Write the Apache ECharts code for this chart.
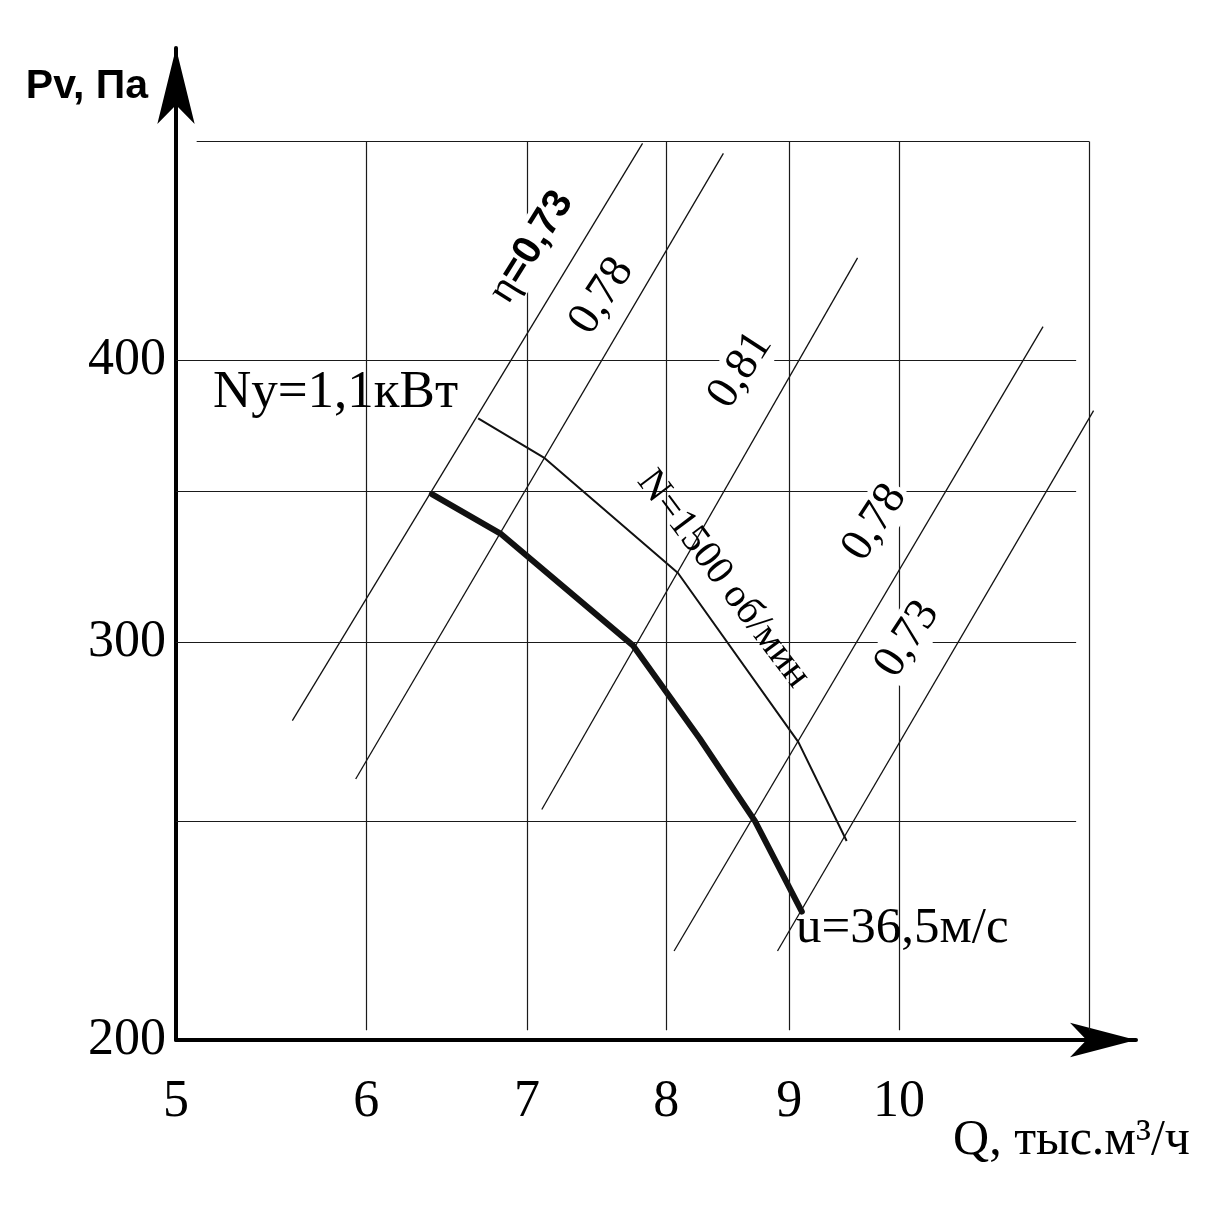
<!DOCTYPE html>
<html>
<head>
<meta charset="utf-8">
<script src="https://cdn.jsdelivr.net/npm/echarts@6/dist/echarts.min.js"></script>
<style>
html,body{margin:0;padding:0;background:#fff;}
#chart{width:1206px;height:1209px;}
</style>
</head>
<body>
<div id="chart"></div>
<script>
// ---------- data ----------
const xTickLabels = [5, 6, 7, 8, 9, 10];
const yTickLabels = [200, 300, 400];
const xGridValues = [6, 7, 8, 9, 10, 12];
const yGridValues = [250, 300, 350, 400, 500];

// pressure curve Pv(Q)
const pressureQ = [6.39, 6.83, 7.75, 8.26, 8.71, 9.11];
const pressureP = [349, 335, 299, 272, 250, 228];

// N = 1500 rpm curve
const speedQ = [6.68, 7.12, 8.09, 9.08, 9.51];
const speedP = [377, 362, 322, 271, 245];

// efficiency lines (start, end)
const etaNames = ['η=0,73', '0,78', '0,81', '0,78', '0,73'];
const etaQ = [[5.59, 7.82], [5.94, 8.45], [7.10, 9.61], [8.06, 11.48], [8.90, 12.05]];
const etaP = [[277, 499], [261, 494], [253, 444], [219, 414], [219, 380]];

// ---------- layout / style ----------
const serif = '"Liberation Serif","Times New Roman",serif';
const sans = '"Liberation Sans",Arial,sans-serif';
const gridSpanX = { from: 5, to: 11.85, topFrom: 5.1, topTo: 12 };
const gridSpanY = { from: 202, to: 500 };

const zip = (a, b) => a.map((v, i) => [v, b[i]]);

const gridLines = [];
yGridValues.forEach(v => {
  const top = v === yGridValues[yGridValues.length - 1];
  gridLines.push([{ coord: [top ? gridSpanX.topFrom : gridSpanX.from, v] },
                  { coord: [top ? gridSpanX.topTo : gridSpanX.to, v] }]);
});
xGridValues.forEach(v => {
  gridLines.push([{ coord: [v, gridSpanY.from] }, { coord: [v, gridSpanY.to] }]);
});

const series = [];
series.push({
  type: 'line', name: 'grid', data: [], silent: true,
  markLine: {
    silent: true, symbol: ['none', 'none'], animation: false,
    label: { show: false },
    lineStyle: { color: '#1a1a1a', width: 1.2, type: 'solid' },
    emphasis: { disabled: true },
    data: gridLines
  }
});
etaQ.forEach((q, i) => {
  series.push({
    type: 'line', name: etaNames[i], data: zip(q, etaP[i]),
    symbol: 'none', silent: true,
    lineStyle: { color: '#111', width: 1.3 }
  });
});
series.push({
  type: 'line', name: 'N=1500', data: zip(speedQ, speedP),
  symbol: 'none', silent: true,
  lineStyle: { color: '#111', width: 2 }
});
series.push({
  type: 'line', name: 'Pv', data: zip(pressureQ, pressureP),
  symbol: 'none', silent: true,
  lineStyle: { color: '#111', width: 6, join: 'round', cap: 'round' }
});

const option = {
  animation: false,
  backgroundColor: '#fff',
  grid: { left: 176, top: 48, width: 960, height: 992, containLabel: false, outerBoundsMode: 'none' },
  xAxis: {
    type: 'log', logBase: 10, min: 5, max: 12.55,
    axisLine: { show: true, onZero: false, lineStyle: { color: '#000', width: 4 },
      symbol: ['none', 'arrow'], symbolSize: [26, 66] },
    axisTick: { show: false },
    splitLine: { show: false },
    minorTick: { show: false },
    axisLabel: { customValues: xTickLabels, fontFamily: serif, fontSize: 52, color: '#000', margin: 36 },
    name: '\nQ, тыс.м³/ч', nameLocation: 'end', nameGap: 54,
    nameTextStyle: { fontFamily: serif, fontSize: 50, lineHeight: 67, color: '#000', align: 'right',
      verticalAlign: 'top' }
  },
  yAxis: {
    type: 'log', logBase: 10, min: 200, max: 550,
    axisLine: { show: true, onZero: false, lineStyle: { color: '#000', width: 4 },
      symbol: ['none', 'arrow'], symbolSize: [28, 76] },
    axisTick: { show: false },
    splitLine: { show: false },
    minorTick: { show: false },
    axisLabel: { customValues: yTickLabels, fontFamily: serif, fontSize: 52, color: '#000', margin: 10 },
    name: 'Pv, Па', nameLocation: 'end', nameGap: -39,
    nameTextStyle: { fontFamily: sans, fontWeight: 'bold', fontSize: 41, color: '#000',
      align: 'right', verticalAlign: 'middle', padding: [0, 28, 0, 0] }
  },
  series: series
};

const chart = echarts.init(document.getElementById('chart'), null, { renderer: 'canvas' });
chart.setOption(option);

// ---------- annotations anchored in data space ----------
const notes = [
  { rich: true, at: [7.03, 449], rot: 58 },
  { text: etaNames[1], at: [7.52, 427], rot: 57, size: 46, bg: true },
  { text: etaNames[2], at: [8.59, 396], rot: 57, size: 46, bg: true },
  { text: etaNames[3], at: [9.77, 339], rot: 57, size: 46, bg: true },
  { text: etaNames[4], at: [10.08, 301], rot: 57, size: 46, bg: true },
  { text: 'N=1500 об/мин', at: [8.45, 320], rot: -53, size: 40 },
  { text: 'Ny=1,1кВт', at: [5.18, 387], rot: 0, size: 53, align: 'left' },
  { text: 'u=36,5м/с', at: [9.06, 224], rot: 0, size: 51, align: 'left' }
];

const graphics = notes.map(n => {
  const p = chart.convertToPixel({ gridIndex: 0 }, n.at);
  const style = n.rich ? {
    text: '{a|η}{b|=0,73}',
    rich: {
      a: { fontFamily: serif, fontSize: 42, fill: '#000' },
      b: { fontFamily: sans, fontWeight: 'bold', fontSize: 40, fill: '#000' }
    },
    align: 'center', verticalAlign: 'middle',
    backgroundColor: '#fff', padding: [0, 3]
  } : {
    text: n.text, fontFamily: serif, fontSize: n.size, fill: '#000',
    align: n.align || 'center', verticalAlign: 'middle',
    backgroundColor: n.bg ? '#fff' : 'transparent', padding: n.bg ? [0, 3] : 0
  };
  return { type: 'text', x: p[0], y: p[1], rotation: n.rot * Math.PI / 180, z: 100, silent: true, style: style };
});
chart.setOption({ graphic: graphics });
</script>
</body>
</html>
